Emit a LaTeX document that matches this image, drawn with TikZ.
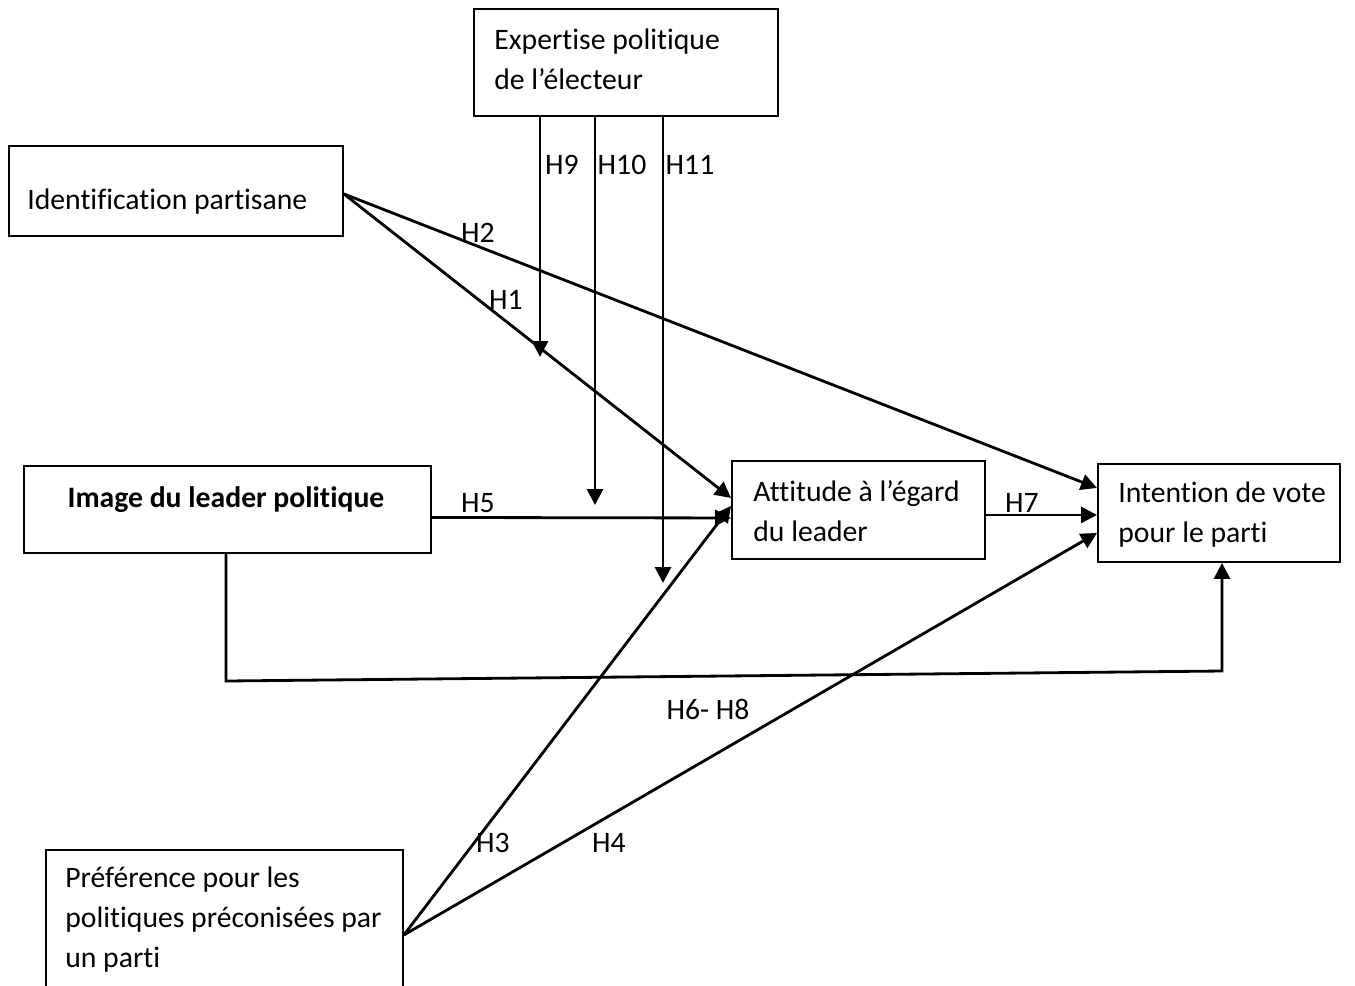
\documentclass[tikz,border=0pt]{standalone}
\usepackage{fontspec}
\setmainfont[Ligatures=NoCommon]{Carlito}
\usetikzlibrary{arrows.meta,calc}
\begin{document}
\begin{tikzpicture}[x=0.02cm,y=-0.02cm,
  box/.style={draw,line width=1.1pt,inner sep=0pt,anchor=north west},
  txt/.style={inner sep=0pt,align=left,anchor=west,font=\fontsize{16.9}{22.8}\selectfont},
  lab/.style={inner sep=0pt,font=\fontsize{16.9}{20}\selectfont},
  conn/.style={line width=1.6pt},
  arr/.style={conn,-{Triangle[length=0.32cm,width=0.32cm]}}]
\clip (0,0) rectangle (1355,985);
% boxes
\node[box,minimum width=6.08cm,minimum height=2.14cm] (exp) at (473,8) {};
\node[box,minimum width=6.68cm,minimum height=1.8cm] (id) at (8,145) {};
\node[box,minimum width=8.14cm,minimum height=1.74cm] (img) at (23,465) {};
\node[box,minimum width=5.06cm,minimum height=1.96cm] (att) at (731,460) {};
\node[box,minimum width=4.84cm,minimum height=1.96cm] (int) at (1097,463) {};
\node[box,minimum width=7.14cm,minimum height=2.84cm] (pref) at (45,849) {};
% texts
\node[txt] (expt) at (494,59) {Expertise politique\\de l’électeur};
\node[txt] (idt) at (27,202) {Identification partisane};
\node[txt,anchor=center,font=\fontsize{16.9}{22.8}\selectfont\bfseries] (imgt) at (226,500) {Image du leader politique};
\node[txt] (attt) at (753,511) {Attitude à l’égard\\du leader};
\node[txt] (intt) at (1118,515) {Intention de vote\\pour le parti};
\node[txt] (preft) at (65,920) {Préférence pour les\\politiques préconisées par\\un parti};
% coordinates
\coordinate (h9s) at (540,115);
\coordinate (h10s) at (595,115);
\coordinate (h11s) at (663,115);
\coordinate (h9e) at (540,357);
\coordinate (h10e) at (595,505);
\coordinate (h11e) at (663,583);
\coordinate (b1) at (226,681);
\coordinate (b2) at (1222,671);
% connectors
\draw[arr] ($(id.east)+(0,3)$) -- ($(att.west)+(0,-12)$);
\draw[arr] ($(id.east)+(0,3)$) -- ($(int.west)+(0,-25)$);
\draw[arr] ($(img.east)+(0,8)$) -- ($(att.west)+(0,8)$);
\draw[arr] ($(att.east)+(0,5)$) -- ($(att.east -| int.west)+(0,5)$);
\draw[arr] ($(pref.east)+(0,14)$) -- ($(att.west)+(0,-4)$);
\draw[arr] ($(pref.east)+(0,14)$) -- ($(int.west)+(0,20)$);
\draw[arr] (h9s) -- (h9e);
\draw[arr] (h10s) -- (h10e);
\draw[arr] (h11s) -- (h11e);
\draw[arr] (img.south -| b1) -- (b1) -- (b2) -- (int.south -| b2);
% labels
\node[lab] (l2) at (478,233) {H2};
\node[lab] (l1) at (506,300) {H1};
\node[lab] (l9) at (562,165) {H9};
\node[lab] (l10) at (622,165) {H10};
\node[lab] (l11) at (690,165) {H11};
\node[lab] (l5) at (478,503) {H5};
\node[lab] (l7) at (1022,503) {H7};
\node[lab] (l68) at (708,709) {H6- H8};
\node[lab] (l3) at (493,843) {H3};
\node[lab] (l4) at (609,843) {H4};
\end{tikzpicture}
\end{document}
